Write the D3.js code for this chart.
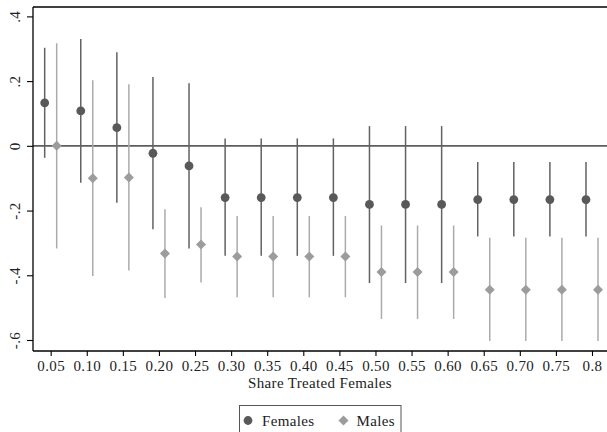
<!DOCTYPE html>
<html>
<head>
<meta charset="utf-8">
<script src="https://cdn.jsdelivr.net/npm/d3@7"></script>
<style>
html,body{margin:0;padding:0;background:#fff;}
svg{display:block;font-family:"Liberation Serif","DejaVu Serif",serif;}
</style>
</head>
<body>
<svg id="chart" width="607" height="432"></svg>
<script>
const shares = [0.05,0.10,0.15,0.20,0.25,0.30,0.35,0.40,0.45,0.50,0.55,0.60,0.65,0.70,0.75,0.80];
const xTickLabels = ["0.05","0.10","0.15","0.20","0.25","0.30","0.35","0.40","0.45","0.50","0.55","0.60","0.65","0.70","0.75","0.8"];
const yTicks = [0.4,0.2,0,-0.2,-0.4,-0.6];
const yTickLabels = [".4",".2","0","-.2","-.4","-.6"];

const femEst = [0.133,0.108,0.056,-0.023,-0.062,-0.160,-0.160,-0.160,-0.160,-0.181,-0.181,-0.181,-0.166,-0.166,-0.166,-0.166];
const femLo  = [-0.037,-0.114,-0.176,-0.258,-0.317,-0.340,-0.340,-0.340,-0.340,-0.424,-0.424,-0.424,-0.280,-0.280,-0.280,-0.280];
const femHi  = [0.303,0.330,0.289,0.213,0.193,0.023,0.023,0.023,0.023,0.061,0.061,0.061,-0.050,-0.050,-0.050,-0.050];

const maleEst = [0.000,-0.100,-0.098,-0.333,-0.305,-0.342,-0.342,-0.342,-0.342,-0.390,-0.390,-0.390,-0.445,-0.445,-0.445,-0.445];
const maleLo  = [-0.317,-0.402,-0.385,-0.470,-0.422,-0.468,-0.468,-0.468,-0.468,-0.535,-0.535,-0.535,-0.603,-0.603,-0.603,-0.603];
const maleHi  = [0.317,0.203,0.190,-0.196,-0.190,-0.217,-0.217,-0.217,-0.217,-0.246,-0.246,-0.246,-0.284,-0.284,-0.284,-0.284];

const xTitle = "Share Treated Females";
const legendLabels = ["Females","Males"];

const svg = d3.select("#chart");
const L = 33, R = 607, T = 7, B = 351;
const x = d3.scaleLinear().domain([0.0255, 0.8208]).range([L, R]);
const y = d3.scaleLinear().domain([-0.634, 0.429]).range([B, T]);

const femColor = "#595959", femLine = "#626262";
const maleColor = "#9c9c9c", maleLine = "#ababab";
const off = 6;
const fs = "15px", ls = "0.35px";

// zero line
svg.append("line").attr("x1", L).attr("x2", R).attr("y1", y(0)).attr("y2", y(0))
  .attr("stroke", "#5e5e5e").attr("stroke-width", 1.6);

// CI lines
const g = svg.append("g");
shares.forEach((s, i) => {
  g.append("line").attr("x1", x(s) - off).attr("x2", x(s) - off)
    .attr("y1", y(femLo[i])).attr("y2", y(femHi[i]))
    .attr("stroke", femLine).attr("stroke-width", 1.5);
  g.append("line").attr("x1", x(s) + off).attr("x2", x(s) + off)
    .attr("y1", y(maleLo[i])).attr("y2", y(maleHi[i]))
    .attr("stroke", maleLine).attr("stroke-width", 1.5);
});
shares.forEach((s, i) => {
  g.append("circle").attr("cx", x(s) - off).attr("cy", y(femEst[i])).attr("r", 4.4).attr("fill", femColor);
  g.append("path").attr("d", d3.symbol().type(d3.symbolSquare).size(50)())
    .attr("transform", `translate(${x(s) + off},${y(maleEst[i])}) rotate(45)`).attr("fill", maleColor);
});

// frame top
svg.append("line").attr("x1", L).attr("x2", R + 1).attr("y1", T).attr("y2", T).attr("stroke", "#000").attr("stroke-width", 1.3);

// axes
const xAxis = d3.axisBottom(x).tickValues(shares).tickSize(5).tickPadding(4)
  .tickFormat((d, i) => xTickLabels[i]);
const xa = svg.append("g").attr("transform", `translate(0,${B})`).call(xAxis);
xa.select(".domain").remove();
xa.append("line").attr("x1", L).attr("x2", R + 1).attr("y1", 0).attr("y2", 0).attr("stroke", "#000").attr("stroke-width", 1.3);
xa.selectAll(".tick line").attr("stroke", "#000").attr("stroke-width", 1.1);
xa.selectAll(".tick text").attr("fill", "#222").style("font-size", fs).style("letter-spacing", ls)
  .style("font-family", "'Liberation Serif',serif");

const yAxis = d3.axisLeft(y).tickValues(yTicks).tickSize(6).tickPadding(6)
  .tickFormat((d, i) => yTickLabels[i]);
const ya = svg.append("g").attr("transform", `translate(${L},0)`).call(yAxis);
ya.select(".domain").remove();
ya.append("line").attr("x1", 0).attr("x2", 0).attr("y1", T).attr("y2", B).attr("stroke", "#000").attr("stroke-width", 1.3);
ya.selectAll(".tick line").attr("stroke", "#000").attr("stroke-width", 1.1);
ya.selectAll(".tick text").attr("fill", "#222").style("font-size", fs).style("letter-spacing", ls)
  .style("font-family", "'Liberation Serif',serif")
  .attr("text-anchor", "middle").attr("dy", null).attr("x", null)
  .attr("transform", "translate(-18,0) rotate(-90)").attr("dominant-baseline", "central");

// x title
svg.append("text").attr("x", (L + R) / 2).attr("y", 388).attr("text-anchor", "middle")
  .attr("fill", "#222").style("font-size", fs).style("letter-spacing", ls).text(xTitle);

// legend
const lg = svg.append("g");
lg.append("rect").attr("x", 239.5).attr("y", 405.5).attr("width", 161.5).attr("height", 40)
  .attr("fill", "#fff").attr("stroke", "#555").attr("stroke-width", 1);
lg.append("circle").attr("cx", 248).attr("cy", 420.5).attr("r", 4.4).attr("fill", femColor);
lg.append("text").attr("x", 262).attr("y", 425.5).attr("fill", "#222").style("font-size", fs).style("letter-spacing", ls).text(legendLabels[0]);
lg.append("path").attr("d", d3.symbol().type(d3.symbolSquare).size(50)())
  .attr("transform", `translate(343.5,420.5) rotate(45)`).attr("fill", maleColor);
lg.append("text").attr("x", 356.5).attr("y", 425.5).attr("fill", "#222").style("font-size", fs).style("letter-spacing", ls).text(legendLabels[1]);
</script>
</body>
</html>
